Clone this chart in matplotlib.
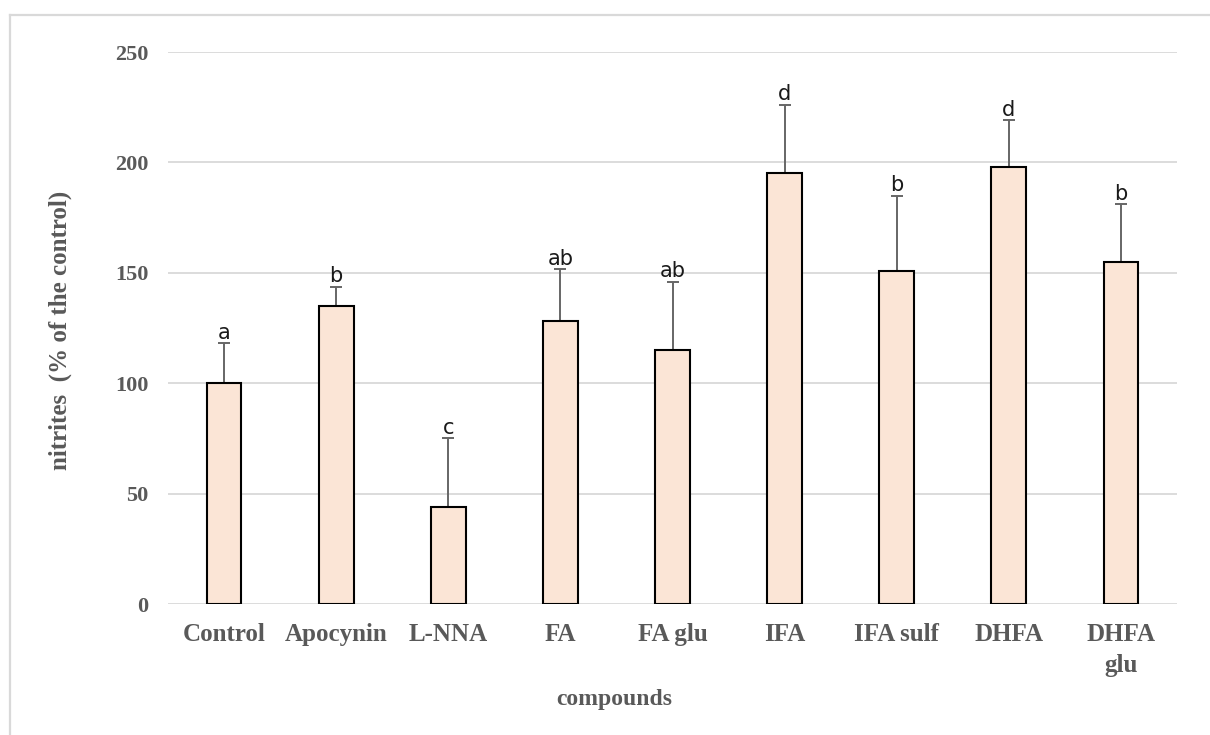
import matplotlib
matplotlib.use("Agg")
import matplotlib.pyplot as plt
from matplotlib.lines import Line2D
import numpy as np

# Nitrite production per compound (% of control), SD and significance groups
categories = ["Control", "Apocynin", "L-NNA", "FA", "FA glu", "IFA", "IFA sulf", "DHFA", "DHFA\nglu"]
means = [100, 135, 44, 128, 115, 195, 151, 198, 155]
sd = [18, 8.5, 31, 23.5, 31, 31, 34, 21, 26]
groups = ["a", "b", "c", "ab", "ab", "d", "b", "d", "b"]
yticks = [0, 50, 100, 150, 200, 250]

TEXT_GREY = "#595959"
GRID_GREY = "#d9d9d9"
BAR_FILL = "#fbe5d6"
SERIF = ["Liberation Serif", "DejaVu Serif"]

fig = plt.figure(figsize=(12.1, 7.35), dpi=100)
W, H = 1210, 735

# chart area frame (top and left edges)
fig.add_artist(Line2D([10 / W, 1.0], [1 - 15 / H, 1 - 15 / H], transform=fig.transFigure,
                      color=GRID_GREY, lw=1.6))
fig.add_artist(Line2D([10 / W, 10 / W], [0, 1 - 15 / H], transform=fig.transFigure,
                      color=GRID_GREY, lw=1.6))

ax = fig.add_axes([168 / W, 131 / H, (1177 - 168) / W, (604 - 52) / H])
x = np.arange(len(categories))

ax.bar(x, means, width=0.31, color=BAR_FILL, edgecolor="black", linewidth=1.5, zorder=3)
ax.errorbar(x, means, yerr=[np.zeros(len(sd)), sd], fmt="none", ecolor="#666666",
            elinewidth=1.4, capsize=4.5, capthick=1.4, zorder=2)

for xi, m, s, g in zip(x, means, sd, groups):
    ax.annotate(g, (xi, m + s), xytext=(0, 0.5), textcoords="offset points",
                ha="center", va="bottom", fontsize=15, color="#1a1a1a",
                family="DejaVu Sans")

ax.set_xlim(-0.5, len(categories) - 0.5)
ax.set_ylim(0, 250)
ax.set_yticks(yticks)
ax.yaxis.grid(True, color=GRID_GREY, lw=1.3, zorder=0)
ax.set_axisbelow(True)
for sp in ax.spines.values():
    sp.set_visible(False)
ax.tick_params(axis="both", length=0)
ax.tick_params(axis="y", pad=14)
ax.tick_params(axis="x", pad=14)

ax.set_xticks(x)
ax.set_xticklabels(categories, fontsize=18, fontweight="bold", color=TEXT_GREY,
                   family=SERIF, linespacing=1.4)
for lbl in ax.get_yticklabels():
    lbl.set_fontsize(16)
    lbl.set_fontweight("bold")
    lbl.set_color(TEXT_GREY)
    lbl.set_family(SERIF)

fig.text(60 / W, 1 - 330 / H, "nitrites  (% of the control)", rotation=90, ha="center",
         va="center", fontsize=18, fontweight="bold", color=TEXT_GREY, family=SERIF)
fig.text(614 / W, 1 - 700 / H, "compounds", ha="center", va="center",
         fontsize=17, fontweight="bold", color=TEXT_GREY, family=SERIF)

fig.savefig("out.png", dpi=100, facecolor="white")
